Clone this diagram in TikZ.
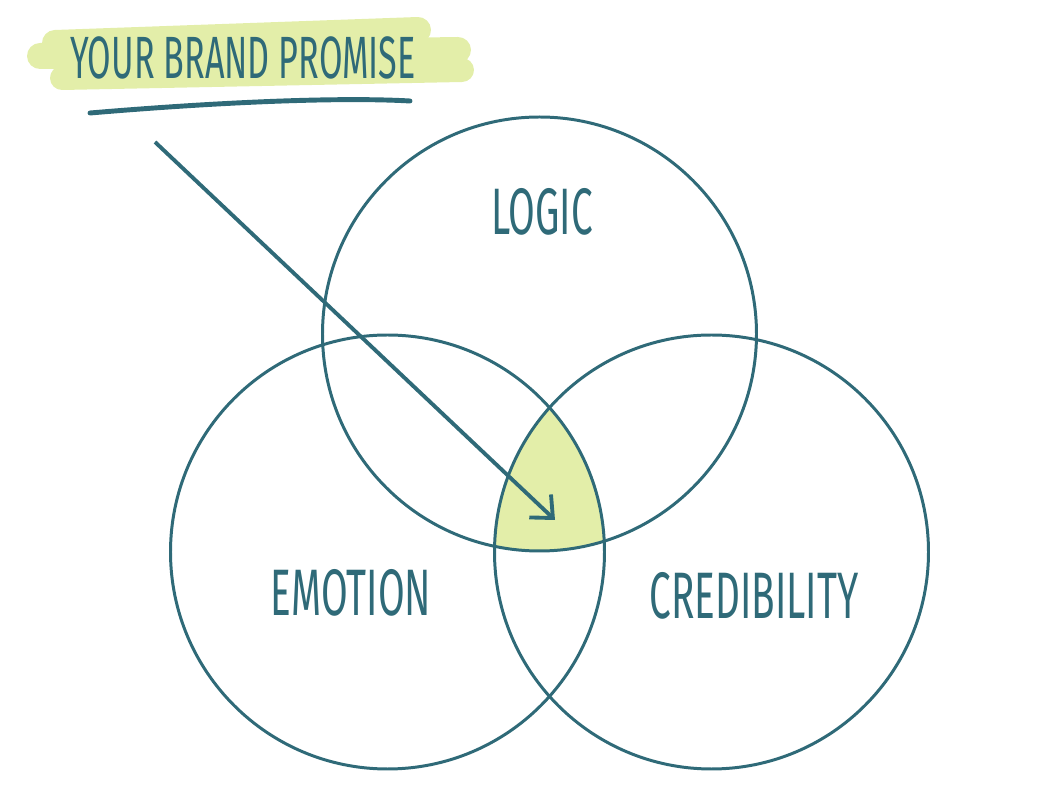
\documentclass[tikz,border=0pt]{standalone}
\usepackage{fontspec}
\setmainfont{Fira Sans}
\usepackage{tikz}
\usetikzlibrary{arrows.meta, positioning}

\definecolor{inkteal}{HTML}{2F6A78}
\definecolor{marker}{HTML}{E3EEA9}

\begin{document}
\begin{tikzpicture}[
  ring/.style   = {draw=inkteal, circle, minimum size=4.34cm, inner sep=0pt,
                   line width=0.85pt},
  word/.style   = {text=inkteal, font=\fontsize{11}{13}\selectfont,
                   yscale=1.7, transform shape},
  title/.style  = {text=inkteal, font=\fontsize{9.7}{12}\selectfont,
                   yscale=1.75, transform shape},
  stroke/.style = {draw=marker, line cap=round, line width=0.26cm},
  arr/.style    = {-{Straight Barb[length=5pt,width=9pt,line width=1.1pt]},
                   draw=inkteal, line width=1.1pt},
]
\useasboundingbox (0,0) rectangle (10.5,-8);

%% Marker band behind the title
\draw[stroke] (0.55,-0.43) -- (4.18,-0.30);
\draw[stroke] (0.40,-0.56) -- (4.58,-0.50);
\draw[stroke, line width=0.24cm] (0.62,-0.78) -- (4.62,-0.70);

\node[title] (promise) at (2.43,-0.58) {YOUR BRAND PROMISE};
\draw[inkteal, line width=1.4pt, line cap=round]
  (0.90,-1.13) .. controls (2.2,-1.02) and (3.4,-0.97) .. (4.10,-1.01);

%% Three circles
\coordinate (cLogic) at (5.395,-3.34);
\coordinate (cEmo)   at (3.875,-5.52);
\coordinate (cCred)  at (7.115,-5.52);

%% Shared centre
\begin{scope}
  \clip (cLogic) circle (2.17);
  \clip (cEmo) circle (2.17);
  \fill[marker] (cCred) circle (2.17);
\end{scope}

\node[ring] (logic)   at (cLogic) {};
\node[ring] (emotion) at (cEmo)   {};
\node[ring] (cred)    at (cCred)  {};

\node[word] (lblLogic) at (5.42,-2.12) {LOGIC};
\node[word] (lblEmo)   at (3.51,-5.93) {EMOTION};
\node[word] (lblCred)  at (7.54,-5.96) {CREDIBILITY};

%% Arrow into the overlap
\coordinate (start)  at (1.55,-1.42);
\coordinate (target) at (5.55,-5.20);
\draw[arr] (start) -- (target);

\end{tikzpicture}
\end{document}
